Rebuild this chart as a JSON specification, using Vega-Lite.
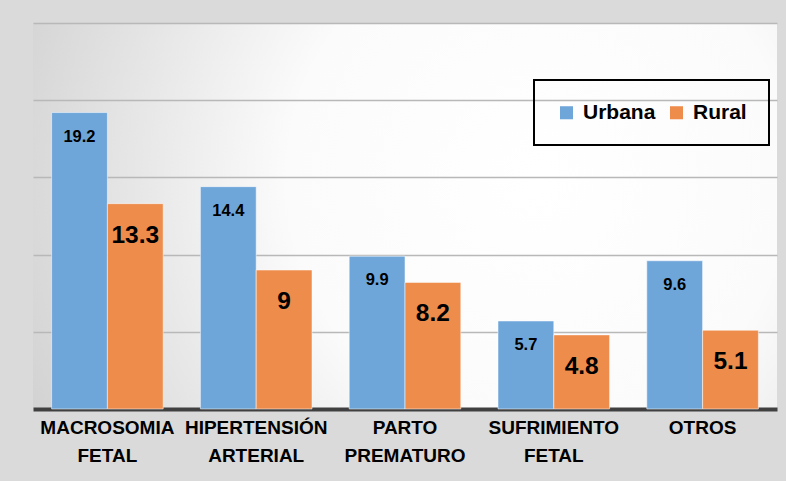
{
  "$schema": "https://vega.github.io/schema/vega-lite/v6.json",
  "width": 744,
  "height": 386,
  "autosize": {"type": "none"},
  "padding": {"left": 33, "top": 23, "right": 9, "bottom": 72},
  "background": "#dadada",
  "config": {
    "font": "Liberation Sans",
    "legend": {"strokeWidth": 2},
    "view": {
      "stroke": null,
      "fill": {
        "gradient": "radial",
        "x1": 0.68, "y1": 0.45, "r1": 0,
        "x2": 0.68, "y2": 0.45, "r2": 0.75,
        "stops": [
          {"offset": 0, "color": "#ffffff"},
          {"offset": 0.45, "color": "#fbfbfb"},
          {"offset": 1, "color": "#d2d2d2"}
        ]
      }
    }
  },
  "data": {
    "values": [
      {"cat": "MACROSOMIA FETAL", "series": "Urbana", "value": 19.2},
      {"cat": "MACROSOMIA FETAL", "series": "Rural", "value": 13.3},
      {"cat": "HIPERTENSIÓN ARTERIAL", "series": "Urbana", "value": 14.4},
      {"cat": "HIPERTENSIÓN ARTERIAL", "series": "Rural", "value": 9},
      {"cat": "PARTO PREMATURO", "series": "Urbana", "value": 9.9},
      {"cat": "PARTO PREMATURO", "series": "Rural", "value": 8.2},
      {"cat": "SUFRIMIENTO FETAL", "series": "Urbana", "value": 5.7},
      {"cat": "SUFRIMIENTO FETAL", "series": "Rural", "value": 4.8},
      {"cat": "OTROS", "series": "Urbana", "value": 9.6},
      {"cat": "OTROS", "series": "Rural", "value": 5.1}
    ]
  },
  "encoding": {
    "x": {
      "field": "cat",
      "type": "nominal",
      "sort": ["MACROSOMIA FETAL", "HIPERTENSIÓN ARTERIAL", "PARTO PREMATURO", "SUFRIMIENTO FETAL", "OTROS"],
      "scale": {"paddingInner": 0.25, "paddingOuter": 0.125},
      "axis": {
        "title": null,
        "labelAngle": 0,
        "labelExpr": "split(datum.label, ' ')",
        "labelFontSize": 19,
        "labelFontWeight": "bold",
        "labelColor": "#000000",
        "labelLineHeight": 28,
        "labelPadding": 18,
        "labelBaseline": "middle",
        "labelOverlap": false,
        "ticks": false,
        "domainColor": "#404040",
        "domainWidth": 4
      }
    },
    "xOffset": {"field": "series", "type": "nominal", "sort": ["Urbana", "Rural"]},
    "y": {
      "field": "value",
      "type": "quantitative",
      "scale": {"domain": [0, 25], "nice": false},
      "axis": {
        "title": null,
        "labels": false,
        "ticks": false,
        "domain": false,
        "values": [5, 10, 15, 20, 25],
        "gridColor": "#b8b8b8",
        "gridWidth": 1.5
      }
    }
  },
  "layer": [
    {
      "mark": {"type": "bar", "stroke": "#ffffff", "strokeOpacity": 0.5, "strokeWidth": 1},
      "encoding": {
        "color": {
          "field": "series",
          "type": "nominal",
          "scale": {"domain": ["Urbana", "Rural"], "range": ["#6fa6da", "#ee8c4c"]},
          "legend": {
            "orient": "none",
            "legendX": 501,
            "legendY": 57,
            "direction": "horizontal",
            "title": null,
            "strokeColor": "#000000",
            "padding": 22,
            "symbolType": "square",
            "symbolSize": 170,
            "symbolStrokeWidth": 0,
            "labelFontSize": 21,
            "labelFontWeight": "bold",
            "labelColor": "#000000",
            "labelOffset": 6,
            "columnPadding": 10
          }
        }
      }
    },
    {
      "transform": [{"filter": "datum.series === 'Urbana'"}],
      "mark": {"type": "text", "baseline": "middle", "dy": 24, "fontSize": 16.5, "fontWeight": "bold", "color": "#000000"},
      "encoding": {"text": {"field": "value", "type": "quantitative"}}
    },
    {
      "transform": [{"filter": "datum.series === 'Rural'"}],
      "mark": {"type": "text", "baseline": "middle", "dy": 32, "fontSize": 24.5, "fontWeight": "bold", "color": "#000000"},
      "encoding": {"text": {"field": "value", "type": "quantitative"}}
    }
  ]
}
